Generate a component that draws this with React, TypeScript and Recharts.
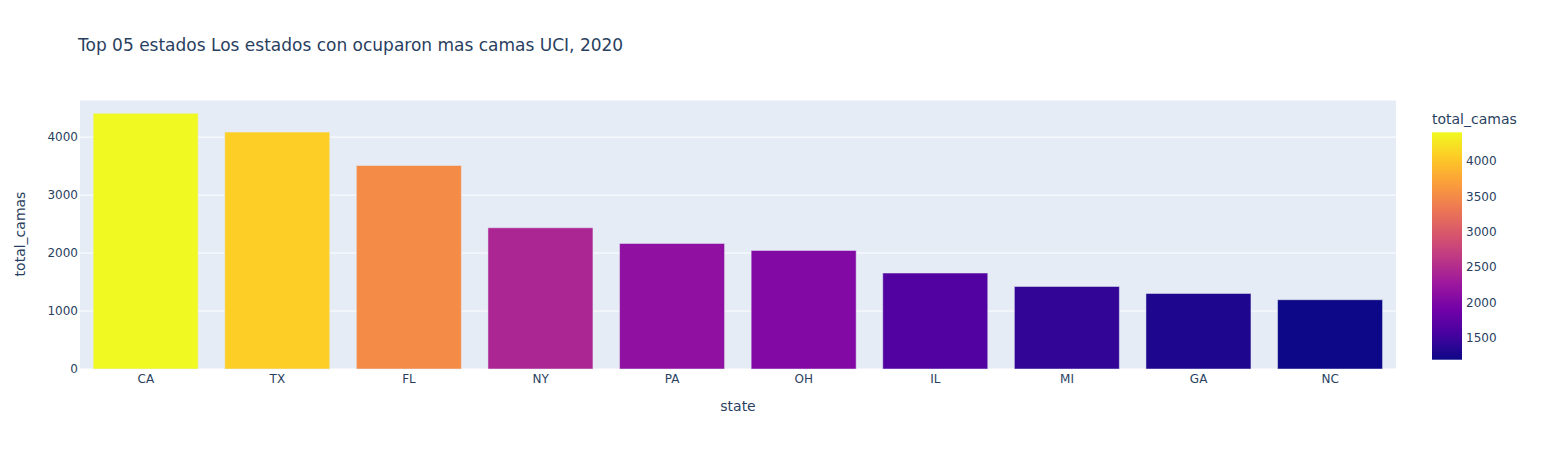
import { BarChart, Bar, XAxis, YAxis, CartesianGrid, Cell, Customized } from "recharts"

const STATES = ["CA", "TX", "FL", "NY", "PA", "OH", "IL", "MI", "GA", "NC"]
const TOTAL_CAMAS = [4410, 4086, 3510, 2436, 2166, 2045, 1655, 1424, 1303, 1195]
const Y_TICKS = [0, 1000, 2000, 3000, 4000]
const COLORBAR_TICKS = [1500, 2000, 2500, 3000, 3500, 4000]

const PLASMA = [
  "#0d0887", "#46039f", "#7201a8", "#9c179e", "#bd3786",
  "#d8576b", "#ed7953", "#fb9f3a", "#fdca26", "#f0f921",
]

const FONT = '"DejaVu Sans", Verdana, sans-serif'
const TEXT_COLOR = "#2a3f5f"

const CMIN = Math.min(...TOTAL_CAMAS)
const CMAX = Math.max(...TOTAL_CAMAS)

function hexToRgb(h: string) {
  const n = parseInt(h.slice(1), 16)
  return [(n >> 16) & 255, (n >> 8) & 255, n & 255]
}

function plasma(t: number) {
  const p = Math.max(0, Math.min(1, t)) * (PLASMA.length - 1)
  const i = Math.min(Math.floor(p), PLASMA.length - 2)
  const f = p - i
  const a = hexToRgb(PLASMA[i])
  const b = hexToRgb(PLASMA[i + 1])
  const c = a.map((v, k) => Math.round(v + (b[k] - v) * f))
  return `rgb(${c[0]},${c[1]},${c[2]})`
}

const data = STATES.map((state, i) => ({ state, total_camas: TOTAL_CAMAS[i] }))

// colorbar geometry
const CB_X = 1432
const CB_W = 30
const CB_TOP = 132.3
const CB_BOTTOM = 359.7

function Decorations() {
  const cbY = (v: number) => CB_BOTTOM - ((v - CMIN) / (CMAX - CMIN)) * (CB_BOTTOM - CB_TOP)
  return (
    <g fontFamily={FONT}>
      <text x={78} y={51} fontSize={17} fill={TEXT_COLOR}>
        Top 05 estados Los estados con ocuparon mas camas UCI, 2020
      </text>
      <text x={738} y={411} fontSize={14} fill={TEXT_COLOR} textAnchor="middle">
        state
      </text>
      <text
        x={0}
        y={0}
        fontSize={14}
        fill={TEXT_COLOR}
        textAnchor="middle"
        transform="translate(25,234) rotate(-90)"
      >
        total_camas
      </text>
      <defs>
        <linearGradient id="cbGrad" x1="0" y1="1" x2="0" y2="0">
          {PLASMA.map((c, i) => (
            <stop key={c} offset={i / (PLASMA.length - 1)} stopColor={c} />
          ))}
        </linearGradient>
      </defs>
      <text x={CB_X} y={124} fontSize={14} fill={TEXT_COLOR}>
        total_camas
      </text>
      <rect x={CB_X} y={CB_TOP} width={CB_W} height={CB_BOTTOM - CB_TOP} fill="url(#cbGrad)" />
      {COLORBAR_TICKS.map((t) => (
        <text
          key={t}
          x={CB_X + CB_W + 4}
          y={cbY(t)}
          fontSize={12}
          fill={TEXT_COLOR}
          dominantBaseline="central"
        >
          {t}
        </text>
      ))}
    </g>
  )
}

export default function App() {
  return (
    <div style={{ position: "absolute", left: 0, top: 0, background: "#fff" }}>
      <BarChart
        width={1541}
        height={450}
        data={data}
        margin={{ top: 100, right: 145, bottom: 51, left: 20 }}
        barCategoryGap="10%"
      >
        <CartesianGrid vertical={false} stroke="#ffffff" strokeWidth={1} fill="#E5ECF6" />
        <XAxis
          dataKey="state"
          height={30}
          axisLine={false}
          tickLine={false}
          tickSize={0}
          tickMargin={5}
          tick={{ fontSize: 12, fill: TEXT_COLOR, fontFamily: FONT }}
          interval={0}
        />
        <YAxis
          width={60}
          domain={[0, 4640]}
          ticks={Y_TICKS}
          axisLine={false}
          tickLine={false}
          tickSize={0}
          tickMargin={2}
          tick={{ fontSize: 12, fill: TEXT_COLOR, fontFamily: FONT }}
        />
        <Bar dataKey="total_camas" isAnimationActive={false} stroke="#E5ECF6" strokeWidth={0.5}>
          {data.map((d) => (
            <Cell key={d.state} fill={plasma((d.total_camas - CMIN) / (CMAX - CMIN))} />
          ))}
        </Bar>
        <Customized component={Decorations} />
      </BarChart>
    </div>
  )
}
